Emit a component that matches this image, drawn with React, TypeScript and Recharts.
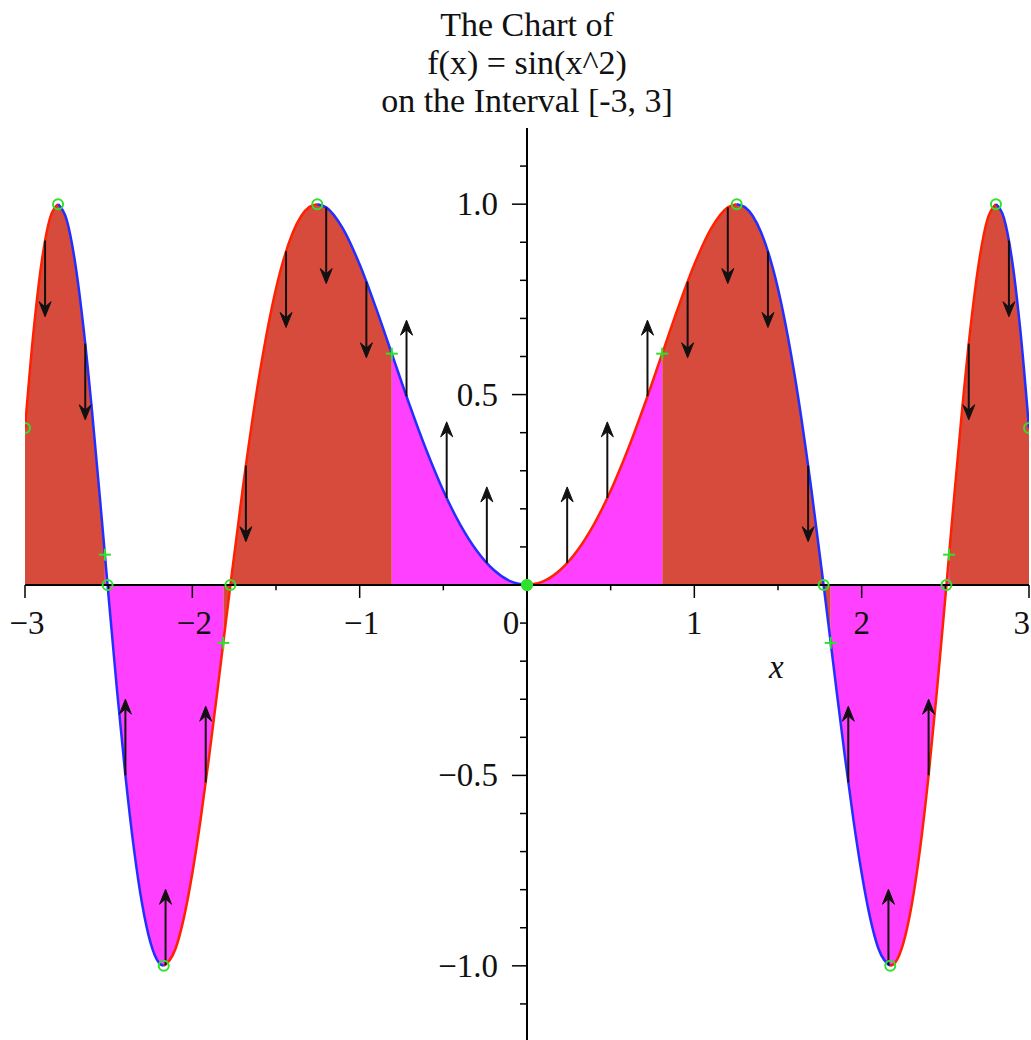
import React from 'react';
import {
  ComposedChart,
  Area,
  Line,
  Scatter,
  XAxis,
  YAxis,
  ReferenceLine,
  ReferenceDot,
} from 'recharts';

// ---------- text ----------
const titleLines = ['The Chart of', 'f(x) = sin(x^2)', 'on the Interval [-3, 3]'];
const xAxisName = 'x';

// ---------- curve samples f(x) = sin(x^2), read for x >= 0 (curve is even) ----------
const halfX = [
  0, 0.1, 0.2, 0.3, 0.4, 0.5, 0.6, 0.7, 0.808, 0.9, 1.0, 1.1, 1.2, 1.2533, 1.3, 1.4, 1.5, 1.6,
  1.7, 1.7725, 1.815, 1.85, 1.9, 1.95, 2.0, 2.05, 2.1, 2.1708, 2.2, 2.25, 2.3, 2.35, 2.4, 2.45,
  2.5066, 2.5225, 2.55, 2.6, 2.65, 2.7, 2.75, 2.8025, 2.85, 2.9, 2.95, 3.0,
];
const halfY = [
  0, 0.01, 0.04, 0.0899, 0.1593, 0.2474, 0.3523, 0.4706, 0.6075, 0.7243, 0.8415, 0.9356, 0.9915,
  1.0, 0.9929, 0.9249, 0.7781, 0.5494, 0.2489, 0, -0.152, -0.2772, -0.4514, -0.6139, -0.7568,
  -0.8728, -0.9546, -1.0, -0.9919, -0.9393, -0.8378, -0.6894, -0.4997, -0.277, 0, 0.0797, 0.2175,
  0.4589, 0.6738, 0.8452, 0.9578, 1.0, 0.9642, 0.8495, 0.6611, 0.4121,
];

// concavity intervals (fill colour) bounded by inflection points
const concavityBreaks = [-3, -2.5225, -1.815, -0.808, 0.808, 1.815, 2.5225, 3];
const concavity = ['down', 'up', 'down', 'up', 'down', 'up', 'down'];

// monotonicity intervals (curve colour) bounded by extrema
const trendBreaks = [-3, -2.8025, -2.1708, -1.2533, 0, 1.2533, 2.1708, 2.8025, 3];
const trend = ['inc', 'dec', 'inc', 'dec', 'inc', 'dec', 'inc', 'dec'];

// green markers
const circleMarkX = [-3, -2.8025, -2.5066, -2.1708, -1.7725, -1.2533, 0, 1.2533, 1.7725, 2.1708, 2.5066, 2.8025, 3];
const circleMarkY = [0.4121, 1, 0, -1, 0, 1, 0, 1, 0, -1, 0, 1, 0.4121];
const crossMarkX = [-2.5225, -1.815, -0.808, 0.808, 1.815, 2.5225];
const crossMarkY = [0.0797, -0.152, 0.6075, 0.6075, -0.152, 0.0797];
const filledMarkX = [0];
const filledMarkY = [0];

// concavity arrows
const arrowX = [
  -2.88, -2.64, -2.4, -2.16, -1.92, -1.68, -1.44, -1.2, -0.96, -0.72, -0.48, -0.24,
  0.24, 0.48, 0.72, 0.96, 1.2, 1.44, 1.68, 1.92, 2.16, 2.4, 2.64, 2.88,
];
const arrowY = [
  0.9046, 0.6338, -0.4997, -0.9989, -0.5183, 0.3138, 0.8763, 0.9915, 0.7966, 0.4955, 0.2284, 0.0576,
  0.0576, 0.2284, 0.4955, 0.7966, 0.9915, 0.8763, 0.3138, -0.5183, -0.9989, -0.4997, 0.6338, 0.9046,
];
const arrowDir = [
  'down', 'down', 'up', 'up', 'up', 'down', 'down', 'down', 'down', 'up', 'up', 'up',
  'up', 'up', 'up', 'down', 'down', 'down', 'down', 'up', 'up', 'up', 'down', 'down',
];
const arrowLength = 0.2;

// ticks
const xMajorTicks = [-3, -2, -1, 0, 1, 2, 3];
const xTickLabels = ['\u22123', '\u22122', '\u22121', '0', '1', '2', '3'];
const xMinorTicks = [-2.5, -1.5, -0.5, 0.5, 1.5, 2.5];
const yMajorTicks = [-1, -0.5, 0.5, 1];
const yTickLabels = ['\u22121.0', '\u22120.5', '0.5', '1.0'];
const yMinorTicks = [
  -1.1, -0.9, -0.8, -0.7, -0.6, -0.4, -0.3, -0.2, -0.1, 0.1, 0.2, 0.3, 0.4, 0.6, 0.7, 0.8, 0.9, 1.1,
];

// ---------- style ----------
const FONT = '"Liberation Serif", "Times New Roman", serif';
const FILL_DOWN = '#d64b3c';
const FILL_UP = '#ff40ff';
const LINE_INC = '#ff2200';
const LINE_DEC = '#2230ff';
const GREEN = '#2fe02f';

function buildTable() {
  const rows: { x: number; y: number }[] = [];
  for (let i = halfX.length - 1; i > 0; i--) rows.push({ x: -halfX[i], y: halfY[i] });
  for (let i = 0; i < halfX.length; i++) rows.push({ x: halfX[i], y: halfY[i] });
  const eps = 1e-6;
  return rows.map((r) => {
    const row: any = { x: r.x, y: r.y, fillDown: null, fillUp: null, lineInc: null, lineDec: null };
    for (let k = 0; k < concavity.length; k++) {
      if (r.x >= concavityBreaks[k] - eps && r.x <= concavityBreaks[k + 1] + eps) {
        if (concavity[k] === 'down') row.fillDown = r.y;
        else row.fillUp = r.y;
      }
    }
    for (let k = 0; k < trend.length; k++) {
      if (r.x >= trendBreaks[k] - eps && r.x <= trendBreaks[k + 1] + eps) {
        if (trend[k] === 'inc') row.lineInc = r.y;
        else row.lineDec = r.y;
      }
    }
    return row;
  });
}

const table = buildTable();
const circleData = circleMarkX.map((x, i) => ({ x, y: circleMarkY[i] }));
const crossData = crossMarkX.map((x, i) => ({ x, y: crossMarkY[i] }));
const filledData = filledMarkX.map((x, i) => ({ x, y: filledMarkY[i] }));

const ArrowShape = (p: any) => {
  const { x1, y1, x2, y2 } = p;
  const dir = y2 > y1 ? 1 : -1;
  const headLen = 15;
  const headW = 6;
  const notch = y2 - dir * headLen * 0.65;
  const d = `M${x2},${y2} L${x2 - headW},${y2 - dir * headLen} L${x2},${notch} L${x2 + headW},${y2 - dir * headLen} Z`;
  return (
    <g>
      <line x1={x1} y1={y1} x2={x2} y2={notch} stroke="#111" strokeWidth={2} />
      <path d={d} fill="#111" stroke="#111" strokeWidth={1} strokeLinejoin="miter" />
    </g>
  );
};

const CircleMark = (p: any) => (
  <circle cx={p.cx} cy={p.cy} r={5} fill="none" stroke={GREEN} strokeWidth={2} />
);
const FilledMark = (p: any) => (
  <circle cx={p.cx} cy={p.cy} r={5.5} fill={GREEN} stroke={GREEN} strokeWidth={1} />
);
const CrossMark = (p: any) => (
  <g stroke={GREEN} strokeWidth={2}>
    <line x1={p.cx - 6} y1={p.cy} x2={p.cx + 6} y2={p.cy} />
    <line x1={p.cx} y1={p.cy - 6} x2={p.cx} y2={p.cy + 6} />
  </g>
);

export default function App() {
  return (
    <div
      style={{
        position: 'fixed',
        left: 0,
        top: 0,
        width: 1031,
        height: 1040,
        overflow: 'hidden',
        background: '#fff',
      }}
    >
      <div
        style={{
          position: 'absolute',
          left: 27,
          top: 6,
          width: 1000,
          textAlign: 'center',
          fontFamily: FONT,
          fontSize: 34,
          lineHeight: '38px',
          color: '#111',
          zIndex: 2,
        }}
      >
        {titleLines.map((t) => (
          <div key={t}>{t}</div>
        ))}
      </div>
      <ComposedChart
        width={1031}
        height={1044}
        data={table}
        margin={{ top: 128, right: 2, bottom: 2, left: 25 }}
      >
        <XAxis dataKey="x" type="number" domain={[-3, 3]} allowDataOverflow hide />
        <YAxis type="number" domain={[-1.2, 1.2]} allowDataOverflow hide />

        <Area
          dataKey="fillDown"
          type="monotone"
          baseValue={0}
          stroke="none"
          fill={FILL_DOWN}
          fillOpacity={1}
          isAnimationActive={false}
          dot={false}
          activeDot={false}
        />
        <Area
          dataKey="fillUp"
          type="monotone"
          baseValue={0}
          stroke="none"
          fill={FILL_UP}
          fillOpacity={1}
          isAnimationActive={false}
          dot={false}
          activeDot={false}
        />
        <Line
          dataKey="lineInc"
          type="monotone"
          stroke={LINE_INC}
          strokeWidth={2.5}
          dot={false}
          activeDot={false}
          isAnimationActive={false}
        />
        <Line
          dataKey="lineDec"
          type="monotone"
          stroke={LINE_DEC}
          strokeWidth={2.5}
          dot={false}
          activeDot={false}
          isAnimationActive={false}
        />

        {/* axes through the origin */}
        <ReferenceLine y={0} stroke="#000" strokeWidth={2} />
        <ReferenceLine x={0} stroke="#000" strokeWidth={2} />

        {xMajorTicks.map((t) => (
          <ReferenceLine
            key={`xM${t}`}
            segment={[{ x: t, y: 0 }, { x: t, y: -0.034 }]}
            stroke="#000"
            strokeWidth={1.5}
          />
        ))}
        {xMinorTicks.map((t) => (
          <ReferenceLine
            key={`xm${t}`}
            segment={[{ x: t, y: 0 }, { x: t, y: -0.014 }]}
            stroke="#000"
            strokeWidth={1.5}
          />
        ))}
        {yMajorTicks.map((t) => (
          <ReferenceLine
            key={`yM${t}`}
            segment={[{ x: 0, y: t }, { x: -0.09, y: t }]}
            stroke="#000"
            strokeWidth={1.5}
          />
        ))}
        {yMinorTicks.map((t) => (
          <ReferenceLine
            key={`ym${t}`}
            segment={[{ x: 0, y: t }, { x: -0.042, y: t }]}
            stroke="#000"
            strokeWidth={1.5}
          />
        ))}

        {xMajorTicks.map((t, i) => (
          <ReferenceDot
            key={`xl${t}`}
            x={t}
            y={0}
            r={0}
            shape={(p: any) => (
              <text
                x={p.cx + (t === 0 ? -16 : t === 3 ? 1 : t < 0 ? 2 : 0)}
                y={p.cy + 49}
                textAnchor={t === 3 ? 'end' : 'middle'}
                fontFamily={FONT}
                fontSize={33}
                fill="#111"
              >
                {xTickLabels[i]}
              </text>
            )}
          />
        ))}
        {yMajorTicks.map((t, i) => (
          <ReferenceDot
            key={`yl${t}`}
            x={0}
            y={t}
            r={0}
            shape={(p: any) => (
              <text
                x={p.cx - 29}
                y={p.cy + 11}
                textAnchor="end"
                fontFamily={FONT}
                fontSize={33}
                fill="#111"
              >
                {yTickLabels[i]}
              </text>
            )}
          />
        ))}
        <ReferenceDot
          x={1.49}
          y={-0.245}
          r={0}
          shape={(p: any) => (
            <text
              x={p.cx}
              y={p.cy}
              textAnchor="middle"
              fontFamily={FONT}
              fontStyle="italic"
              fontSize={33}
              fill="#111"
            >
              {xAxisName}
            </text>
          )}
        />

        {arrowX.map((ax, i) => (
          <ReferenceLine
            key={`ar${i}`}
            segment={[
              { x: ax, y: arrowY[i] },
              { x: ax, y: arrowY[i] + (arrowDir[i] === 'up' ? arrowLength : -arrowLength) },
            ]}
            shape={ArrowShape}
          />
        ))}

        <Scatter data={circleData} dataKey="y" shape={CircleMark} isAnimationActive={false} />
        <Scatter data={filledData} dataKey="y" shape={FilledMark} isAnimationActive={false} />
        <Scatter data={crossData} dataKey="y" shape={CrossMark} isAnimationActive={false} />
      </ComposedChart>
    </div>
  );
}
